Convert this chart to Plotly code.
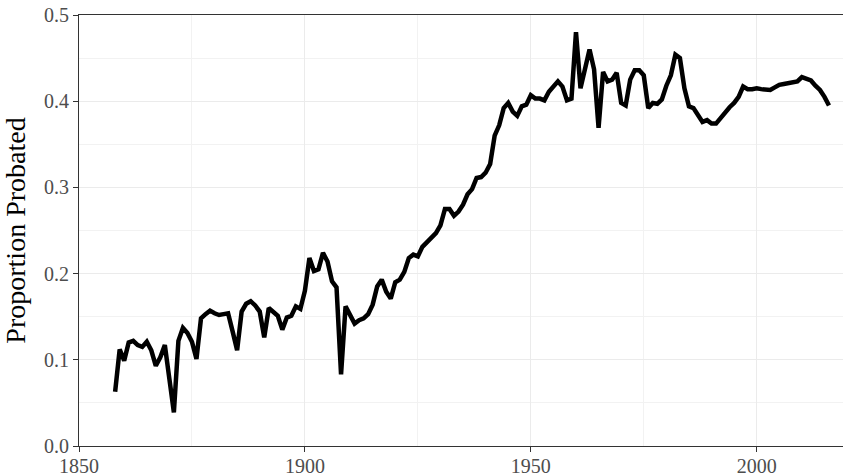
import plotly.graph_objects as go

# años y proporción de testamentos validados
years = list(range(1858, 2017))
proportion = [
    0.063, 0.112, 0.099, 0.120, 0.122, 0.117, 0.115, 0.121, 0.111, 0.093,  # 1858-1867
    0.103, 0.117, 0.078, 0.039, 0.122, 0.137, 0.131, 0.121, 0.101, 0.148,  # 1868-1877
    0.153, 0.157, 0.154, 0.152, 0.153, 0.154, 0.133, 0.111, 0.156, 0.165,  # 1878-1887
    0.168, 0.163, 0.156, 0.126, 0.160, 0.156, 0.151, 0.135, 0.149, 0.151,  # 1888-1897
    0.162, 0.159, 0.180, 0.218, 0.203, 0.205, 0.224, 0.214, 0.191, 0.184,  # 1898-1907
    0.083, 0.162, 0.152, 0.142, 0.146, 0.148, 0.153, 0.164, 0.185, 0.193,  # 1908-1917
    0.179, 0.171, 0.190, 0.193, 0.202, 0.218, 0.222, 0.220, 0.231, 0.236,  # 1918-1927
    0.241, 0.247, 0.256, 0.275, 0.275, 0.267, 0.272, 0.280, 0.292, 0.298,  # 1928-1937
    0.311, 0.312, 0.317, 0.327, 0.360, 0.372, 0.392, 0.398, 0.388, 0.383,  # 1938-1947
    0.394, 0.396, 0.407, 0.403, 0.403, 0.401, 0.411, 0.418, 0.423, 0.417,  # 1948-1957
    0.401, 0.403, 0.480, 0.415, 0.440, 0.460, 0.437, 0.369, 0.434, 0.423,  # 1958-1967
    0.425, 0.433, 0.398, 0.395, 0.425, 0.436, 0.436, 0.430, 0.392, 0.398,  # 1968-1977
    0.397, 0.402, 0.418, 0.430, 0.454, 0.450, 0.415, 0.394, 0.392, 0.384,  # 1978-1987
    0.376, 0.378, 0.374, 0.374, 0.381, 0.387, 0.393, 0.398, 0.405, 0.417,  # 1988-1997
    0.414, 0.414, 0.415, 0.414, 0.413, 0.413, 0.416, 0.419, 0.420, 0.421,  # 1998-2007
    0.421, 0.423, 0.428, 0.426, 0.424, 0.418, 0.413, 0.405, 0.395,         # 2008-2016
]

x_ticks = [1850, 1900, 1950, 2000]
y_ticks = [0.0, 0.1, 0.2, 0.3, 0.4, 0.5]

serif = "Liberation Serif, DejaVu Serif, serif"
grid_major = "#ebebeb"
grid_minor = "#f2f2f2"

fig = go.Figure()
fig.add_trace(go.Scatter(
    x=years,
    y=proportion,
    mode="lines",
    line=dict(color="black", width=4.5),
    hoverinfo="x+y",
))

fig.update_layout(
    width=844,
    height=476,
    margin=dict(l=79, r=1, t=15, b=30),
    paper_bgcolor="white",
    plot_bgcolor="white",
    showlegend=False,
    font=dict(family=serif, color="#4d4d4d", size=20),
)

fig.update_xaxes(
    range=[1850, 2019.1],
    automargin=False,
    tickvals=x_ticks,
    ticktext=[str(v) for v in x_ticks],
    ticks="outside",
    ticklen=5,
    tickcolor="#333333",
    ticklabelstandoff=-3,
    showline=True,
    linecolor="#333333",
    linewidth=1.2,
    mirror=True,
    showgrid=True,
    gridcolor=grid_major,
    gridwidth=1,
    zeroline=False,
    minor=dict(tick0=1875, dtick=50, showgrid=True, gridcolor=grid_minor, gridwidth=1),
    tickfont=dict(family=serif, size=20, color="#4d4d4d"),
)

fig.update_yaxes(
    range=[0, 0.5],
    automargin=False,
    tickvals=y_ticks,
    ticktext=[f"{v:.1f}" for v in y_ticks],
    ticks="outside",
    ticklen=5,
    tickcolor="#333333",
    showline=True,
    linecolor="#333333",
    linewidth=1.2,
    showgrid=True,
    gridcolor=grid_major,
    gridwidth=1,
    zeroline=False,
    minor=dict(tick0=0.05, dtick=0.1, showgrid=True, gridcolor=grid_minor, gridwidth=1),
    title=dict(text="Proportion Probated", font=dict(family=serif, size=28, color="black"), standoff=10),
    tickfont=dict(family=serif, size=20, color="#4d4d4d"),
)

# quitar el margen del body para que la figura ocupe toda la ventana
fig.write_html(
    "out.html",
    config={"displayModeBar": False},
    post_script="document.body.style.margin='0';document.body.style.overflow='hidden';",
)
